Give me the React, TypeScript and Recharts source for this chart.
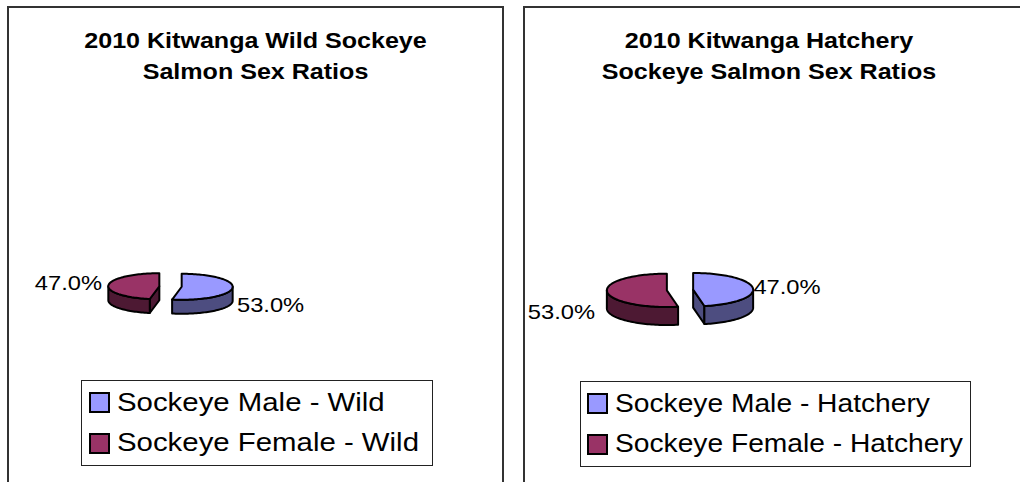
import React from 'react';
import { PieChart, Pie, Cell, Legend } from 'recharts';

const sexes = ['Sockeye Male', 'Sockeye Female'];
const wildShares = [53.0, 47.0];
const hatcheryShares = [47.0, 53.0];

const topColors = ['#9999FF', '#993366'];
const sideColors = ['#4D4D80', '#4D1933'];

const FONT = '"Liberation Sans", Arial, Helvetica, sans-serif';
const STRETCH = 1.13;

const wildData = sexes.map((s, i) => ({ name: `${s} - Wild`, value: wildShares[i] }));
const hatcheryData = sexes.map((s, i) => ({ name: `${s} - Hatchery`, value: hatcheryShares[i] }));

const rad = (a: number) => (a * Math.PI) / 180;

interface LabelOffset {
  dx: number;
  dy: number;
  anchor: 'start' | 'end';
}

// draws one exploded 3D slice from the sector Recharts computed, plus its % label
const Slice3D = (props: any) => {
  const { cx, cy, outerRadius, startAngle, endAngle, percent, index, tilt, depth, explode, offsets } = props;
  const mid = (startAngle + endAngle) / 2;
  const rx = outerRadius;
  const ry = outerRadius * tilt;
  const ox = cx + explode * Math.cos(rad(mid));
  const oy = cy - explode * tilt * Math.sin(rad(mid));
  const pt = (a: number, z = 0): [number, number] => [ox + rx * Math.cos(rad(a)), oy - ry * Math.sin(rad(a)) + z];
  const arc = (from: number, to: number, z = 0) => {
    const n = Math.max(2, Math.ceil(Math.abs(to - from) / 2));
    const out: [number, number][] = [];
    for (let i = 0; i <= n; i++) out.push(pt(from + ((to - from) * i) / n, z));
    return out;
  };
  const path = (pts: [number, number][]) =>
    'M' + pts.map((p) => `${p[0].toFixed(2)},${p[1].toFixed(2)}`).join('L') + 'Z';

  const hi = Math.max(startAngle, endAngle);
  const lo = Math.min(startAngle, endAngle);
  const side = sideColors[index];
  const top = topColors[index];
  const c: [number, number] = [ox, oy];
  const cd: [number, number] = [ox, oy + depth];

  const faces: string[] = [];
  if (Math.cos(rad(hi)) < -1e-6) faces.push(path([c, pt(hi), pt(hi, depth), cd]));
  if (Math.cos(rad(lo)) > 1e-6) faces.push(path([c, pt(lo), pt(lo, depth), cd]));

  const walls: string[] = [];
  for (let k = -2; k <= 1; k++) {
    const a = Math.max(lo, -180 + 360 * k);
    const b = Math.min(hi, 360 * k);
    if (a < b) walls.push(path([...arc(b, a), ...arc(a, b, depth)]));
  }

  const off: LabelOffset = offsets[index];
  const [lx, ly] = pt(mid);

  return (
    <g>
      {faces.map((d, i) => (
        <path key={`f${i}`} d={d} fill={side} stroke="#000" strokeWidth={2} strokeLinejoin="round" />
      ))}
      {walls.map((d, i) => (
        <path key={`w${i}`} d={d} fill={side} stroke="#000" strokeWidth={2} strokeLinejoin="round" />
      ))}
      <path d={path([c, ...arc(hi, lo)])} fill={top} stroke="#000" strokeWidth={2} strokeLinejoin="round" />
      <text
        transform={`translate(${lx + off.dx},${ly + off.dy}) scale(${STRETCH},1)`}
        textAnchor={off.anchor}
        fontFamily={FONT}
        fontSize={21}
        fill="#000"
      >
        {`${(percent * 100).toFixed(1)}%`}
      </text>
    </g>
  );
};

const LegendBox = ({ payload, names, width, squareX, textX, stretch }: any) => {
  // keep the data order (Recharts sorts legend items by name)
  const items = names.map((n: string) => (payload || []).find((p: any) => p.value === n)).filter(Boolean);
  return (
    <svg width={width} height={86} style={{ display: 'block' }}>
      <rect x={0.5} y={0.5} width={width - 1} height={85} fill="#fff" stroke="#222" />
      {items.map((item: any, i: number) => (
        <g key={item.value}>
          <rect x={squareX} y={13 + 41 * i} width={19} height={19} fill={topColors[i]} stroke="#000" strokeWidth={2} />
          <text
            transform={`translate(${textX},${31 + 40 * i}) scale(${stretch},1)`}
            fontFamily={FONT}
            fontSize={26}
            fill="#000"
          >
            {item.value}
          </text>
        </g>
      ))}
    </svg>
  );
};

interface PanelProps {
  left: number;
  width: number;
  title: string[];
  titleX: number;
  data: { name: string; value: number }[];
  cx: number;
  cy: number;
  radius: number;
  tilt: number;
  depth: number;
  offsets: LabelOffset[];
  legend: { x: number; y: number; w: number; squareX: number; textX: number; stretch: number };
}

const Panel = ({ left, width, title, titleX, data, cx, cy, radius, tilt, depth, offsets, legend }: PanelProps) => (
  <>
    <div
      style={{
        position: 'absolute',
        left: left - 1,
        top: 6,
        width: width + 2,
        height: 500,
        border: '2px solid #333',
        boxSizing: 'border-box',
        background: '#fff',
      }}
    />
    <div style={{ position: 'absolute', left, top: 7 }}>
      <PieChart width={width} height={475} margin={{ top: 0, right: 0, bottom: 0, left: 0 }}>
        <Pie
          data={data}
          dataKey="value"
          nameKey="name"
          cx={cx}
          cy={cy}
          outerRadius={radius}
          startAngle={90}
          endAngle={-270}
          stroke="none"
          fillOpacity={0}
          labelLine={false}
          isAnimationActive={false}
          label={(p: any) => (
            <Slice3D {...p} tilt={tilt} depth={depth} explode={radius * 0.22} offsets={offsets} />
          )}
        >
          {data.map((d, i) => (
            <Cell key={d.name} fill={topColors[i]} />
          ))}
        </Pie>
        <Legend
          content={(p: any) => (
            <LegendBox
              payload={p.payload}
              names={data.map((d) => d.name)}
              width={legend.w}
              squareX={legend.squareX}
              textX={legend.textX}
              stretch={legend.stretch}
            />
          )}
          wrapperStyle={{ left: legend.x, top: legend.y, width: legend.w, height: 86 }}
        />
      </PieChart>
      <svg width={width} height={90} style={{ position: 'absolute', left: 0, top: 0, pointerEvents: 'none' }}>
        {title.map((line, i) => (
          <text
            key={line}
            transform={`translate(${titleX},${40.7 + 31.6 * i}) scale(1.14,1)`}
            textAnchor="middle"
            fontFamily={FONT}
            fontWeight="bold"
            fontSize={22}
            fill="#000"
          >
            {line}
          </text>
        ))}
      </svg>
    </div>
  </>
);

export default function App() {
  return (
    <div
      style={{
        position: 'absolute',
        left: 0,
        top: 0,
        width: 1020,
        height: 482,
        overflow: 'hidden',
        background: '#fff',
      }}
    >
      <Panel
        left={8}
        width={495}
        title={['2010 Kitwanga Wild Sockeye', 'Salmon Sex Ratios']}
        titleX={247.5}
        data={wildData}
        cx={162.5}
        cy={279.5}
        radius={51}
        tilt={0.255}
        depth={14}
        offsets={[
          { dx: 4.5, dy: 24, anchor: 'start' },
          { dx: -6.5, dy: 5, anchor: 'end' },
        ]}
        legend={{ x: 73, y: 373, w: 352, squareX: 9, textX: 36, stretch: STRETCH }}
      />
      <Panel
        left={524}
        width={504}
        title={['2010 Kitwanga Hatchery', 'Sockeye Salmon Sex Ratios']}
        titleX={245}
        data={hatcheryData}
        cx={156}
        cy={283}
        radius={60}
        tilt={0.278}
        depth={18}
        offsets={[
          { dx: 0.5, dy: 6, anchor: 'start' },
          { dx: -12, dy: 27, anchor: 'end' },
        ]}
        legend={{ x: 56, y: 374, w: 391, squareX: 8, textX: 35, stretch: 1.085 }}
      />
    </div>
  );
}
